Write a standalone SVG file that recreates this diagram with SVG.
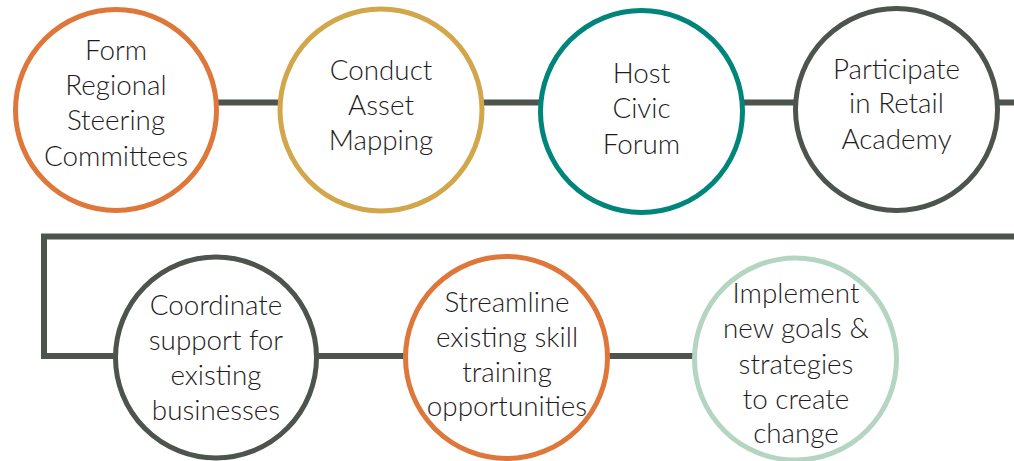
<svg xmlns="http://www.w3.org/2000/svg" width="1014" height="461" viewBox="0 0 1014 461">
<style>
.c{fill:#fff;stroke-width:5}
.t{font-family:Lato,"Open Sans","Liberation Sans",sans-serif;font-weight:300;font-size:27.8px;fill:#1f1c1d;text-anchor:middle}
.l{stroke:#4d544e;stroke-width:6;fill:none}
</style>
<rect width="1014" height="461" fill="#fff"/>
<g id="connectors">
<line class="l" x1="216" y1="102.5" x2="280" y2="102.5"/>
<line class="l" x1="482" y1="102.5" x2="541" y2="102.5"/>
<line class="l" x1="743" y1="102.5" x2="795" y2="102.5"/>
<line class="l" x1="998" y1="102.5" x2="1014" y2="102.5"/>
<polyline class="l" points="1014,236.5 44,236.5 44,356 116,356"/>
<line class="l" x1="317" y1="356" x2="405" y2="356"/>
<line class="l" x1="608" y1="356" x2="694" y2="356"/>
</g>
<g id="n1"><circle class="c" cx="116" cy="110" r="100.5" stroke="#e0773a"/>
<text class="t" x="116"><tspan x="116" y="60">Form</tspan><tspan x="116" y="95">Regional</tspan><tspan x="116" y="130">Steering</tspan><tspan x="116" y="165.5">Committees</tspan></text></g>
<g id="n2"><circle class="c" cx="381" cy="110" r="101" stroke="#d2a64a"/>
<text class="t"><tspan x="381" y="80">Conduct</tspan><tspan x="381" y="114.5">Asset</tspan><tspan x="381" y="150">Mapping</tspan></text></g>
<g id="n3"><circle class="c" cx="641.5" cy="111.5" r="101" stroke="#00857a"/>
<text class="t"><tspan x="641.5" y="83">Host</tspan><tspan x="641.5" y="118">Civic</tspan><tspan x="641.5" y="154">Forum</tspan></text></g>
<g id="n4"><circle class="c" cx="896.5" cy="109.5" r="101" stroke="#4d544e"/>
<text class="t"><tspan x="896.5" y="79">Participate</tspan><tspan x="896.5" y="113">in Retail</tspan><tspan x="896.5" y="149">Academy</tspan></text></g>
<g id="n5"><circle class="c" cx="216" cy="357.5" r="100.5" stroke="#4d544e"/>
<text class="t"><tspan x="216" y="315">Coordinate</tspan><tspan x="216" y="350">support for</tspan><tspan x="216" y="385">existing</tspan><tspan x="216" y="420">businesses</tspan></text></g>
<g id="n6"><circle class="c" cx="506.5" cy="357.5" r="101" stroke="#e0773a"/>
<text class="t"><tspan x="507" y="312">Streamline</tspan><tspan x="507" y="347">existing skill</tspan><tspan x="507" y="382">training</tspan><tspan x="507" y="416">opportunities</tspan></text></g>
<g id="n7"><circle class="c" cx="795.5" cy="359" r="101" stroke="#b5d5c3"/>
<text class="t"><tspan x="796" y="303">Implement</tspan><tspan x="796" y="338">new goals &amp;</tspan><tspan x="796" y="374">strategies</tspan><tspan x="796" y="409">to create</tspan><tspan x="796" y="443">change</tspan></text></g>
</svg>
